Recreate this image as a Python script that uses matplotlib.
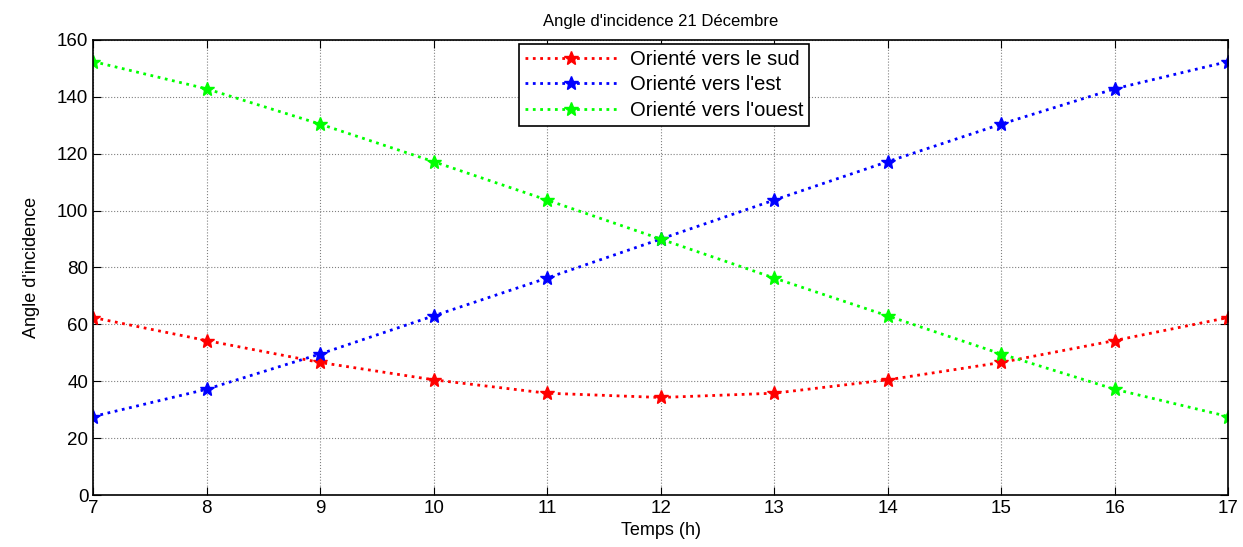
import matplotlib.pyplot as plt
import numpy as np

heures = [7, 8, 9, 10, 11, 12, 13, 14, 15, 16, 17]
sud = [62.4, 54.3, 46.6, 40.5, 35.8, 34.3, 35.8, 40.5, 46.6, 54.3, 62.4]
est = [27.6, 37.2, 49.6, 63.0, 76.3, 90.0, 103.7, 117.2, 130.4, 142.8, 152.4]
ouest = [152.4, 142.8, 130.4, 117.2, 103.7, 90.0, 76.3, 63.0, 49.6, 37.2, 27.6]

plt.rcParams['font.family'] = ['Liberation Sans', 'DejaVu Sans']

fig = plt.figure(figsize=(12.43, 5.47), dpi=100)
ax = fig.add_axes([0.075, 0.095, 0.913, 0.832])

style = dict(linestyle=':', linewidth=2, marker='*', markersize=10)
ax.plot(heures, sud, color='r', label='Orienté vers le sud', **style)
ax.plot(heures, est, color='b', label="Orienté vers l'est", **style)
ax.plot(heures, ouest, color='#00ff00', label="Orienté vers l'ouest", **style)

ax.set_xlim(7, 17)
ax.set_ylim(0, 160)
ax.set_xticks(np.arange(7, 18, 1))
ax.set_yticks(np.arange(0, 161, 20))
ax.grid(True, color='gray', linestyle=':', linewidth=0.8)
ax.tick_params(direction='in', top=True, right=True, labelsize=13.5, length=6)
for s in ax.spines.values():
    s.set_linewidth(1.2)

ax.set_title("Angle d'incidence 21 Décembre", fontsize=12, pad=10)
ax.set_xlabel('Temps (h)', fontsize=13)
ax.set_ylabel("Angle d'incidence", fontsize=13, labelpad=12,
              family=['Liberation Sans Narrow', 'Liberation Sans'])

leg = ax.legend(loc='upper center', bbox_to_anchor=(0.503, 1.0), fontsize=14.5, fancybox=False,
                edgecolor='black', framealpha=1, handlelength=4.6, handletextpad=0.6,
                borderaxespad=0.2, labelspacing=0.32, borderpad=0.3)
leg.get_frame().set_linewidth(1.2)

fig.savefig('out.png', dpi=100)
